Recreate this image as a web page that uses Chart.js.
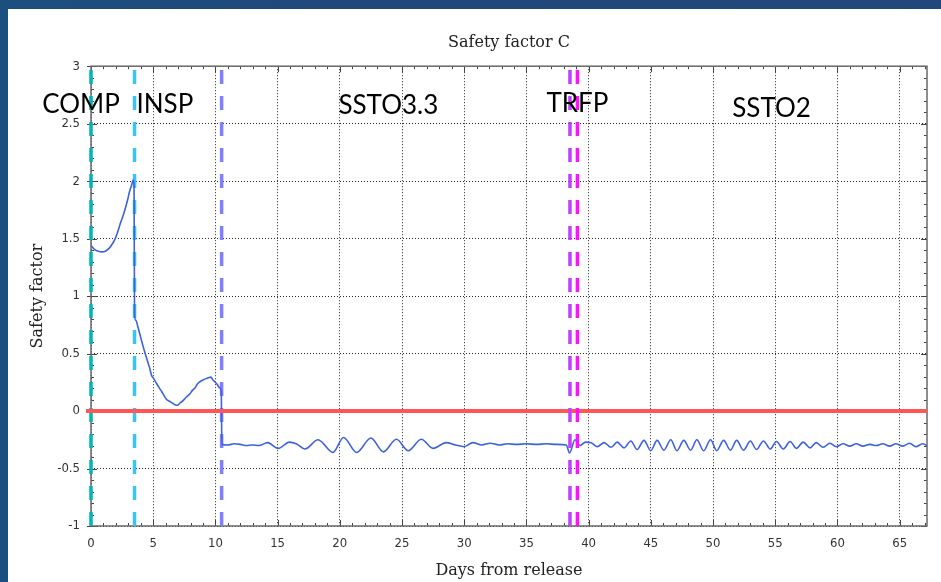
<!DOCTYPE html>
<html>
<head>
<meta charset="utf-8">
<title>Safety factor C</title>
<script src="https://cdn.jsdelivr.net/npm/chart.js@4.4.1/dist/chart.umd.min.js"></script>
<style>
  html, body { margin: 0; padding: 0; }
  body {
    width: 941px;
    height: 582px;
    overflow: hidden;
    background: linear-gradient(90deg, #1b4f80 0%, #21487a 35%, #22477a 100%);
  }
  #panel {
    position: absolute;
    left: 8px;
    top: 9px;
    width: 933px;
    height: 573px;
    background: #fff;
  }
</style>
</head>
<body>
<div id="panel"><canvas id="grafica" width="933" height="573"></canvas></div>
<script>
// days from release and the computed safety factor at each day
const days = [
    0.00, 0.30, 0.60, 0.86, 1.15, 1.45, 1.75, 1.95, 2.15, 2.35, 2.55, 2.75, 2.95, 3.10, 3.25, 3.40, 3.46, 3.50, 3.60,
    3.80, 4.07, 4.30, 4.47, 4.70, 4.87, 5.05, 5.27, 5.50, 5.68, 5.90, 6.08, 6.30, 6.53, 6.75, 6.95, 7.15, 7.40, 7.65,
    7.95, 8.15, 8.35, 8.55, 8.76, 9.00, 9.20, 9.45, 9.64, 9.80, 9.96, 10.15, 10.36, 10.47, 10.52,
    11.00, 11.50, 12.00, 12.50, 13.00, 13.50, 14.20, 15.05, 15.95, 16.50, 17.20, 18.25, 19.45, 20.30, 21.35, 22.50,
    23.50, 24.55, 25.50, 26.55, 27.50, 28.55, 29.30, 30.00, 30.70, 31.40, 32.10, 32.80, 33.50, 34.20, 35.00, 35.80,
    36.60, 37.40, 38.20, 38.47, 38.90, 39.30, 39.75,
    40.20, 40.70, 41.25, 41.80, 42.30, 42.85, 43.40, 43.90, 44.45, 45.00, 45.50, 46.05, 46.60, 47.10, 47.65, 48.20,
    48.70, 49.25, 49.80, 50.30, 50.85, 51.40, 51.90, 52.45, 53.00, 53.50, 54.05, 54.60, 55.10, 55.65, 56.20, 56.70,
    57.25, 57.80, 58.30, 58.85, 59.40, 59.90, 60.45, 61.00, 61.50, 62.05, 62.60, 63.10, 63.65, 64.20, 64.70, 65.25,
    65.80, 66.30, 66.85, 67.20
];
const safety = [
    1.44, 1.405, 1.39, 1.385, 1.39, 1.415, 1.46, 1.50, 1.56, 1.63, 1.69, 1.76, 1.84, 1.91, 1.96, 2.01, 1.96, 0.84, 0.79,
    0.72, 0.61, 0.52, 0.46, 0.38, 0.31, 0.28, 0.24, 0.20, 0.17, 0.13, 0.10, 0.085, 0.07, 0.055, 0.05, 0.07, 0.09, 0.12,
    0.15, 0.18, 0.20, 0.235, 0.255, 0.27, 0.28, 0.29, 0.295, 0.27, 0.255, 0.23, 0.20, 0.17, -0.29,
    -0.295, -0.285, -0.29, -0.30, -0.295, -0.30, -0.275, -0.325, -0.27, -0.285, -0.33, -0.25, -0.36, -0.23, -0.36, -0.235,
    -0.355, -0.245, -0.345, -0.245, -0.325, -0.275, -0.295, -0.31, -0.275, -0.295, -0.28, -0.295, -0.285, -0.29, -0.285, -0.29,
    -0.285, -0.29, -0.295, -0.365, -0.25, -0.30, -0.27,
    -0.275, -0.31, -0.275, -0.315, -0.27, -0.32, -0.26, -0.335, -0.255, -0.345, -0.255, -0.34, -0.25, -0.345, -0.255, -0.34,
    -0.25, -0.345, -0.25, -0.345, -0.255, -0.34, -0.255, -0.34, -0.26, -0.335, -0.26, -0.33, -0.265, -0.33, -0.265, -0.325,
    -0.27, -0.32, -0.275, -0.315, -0.28, -0.31, -0.285, -0.305, -0.285, -0.305, -0.29, -0.30, -0.285, -0.305, -0.285, -0.305,
    -0.28, -0.31, -0.285, -0.30
];

// mission phases: the day each one starts and its name
const phaseDays = [0, 3.5, 10.5, 38.5, 39.1];
const phaseNames = ['COMP', 'INSP', 'SSTO3.3', 'TRFP', 'SSTO2'];
const phaseColors = ['#00b4b4', '#3cc3f5', '#7f7fff', '#bf40ff', '#ff10ff'];

const threshold = 0;
const yMin = -1, yMax = 3, yStep = 0.5;
const xMin = 0, xMax = 67.2, xStep = 5;

// where each phase name is written, in axis units
const phaseLabelPos = [
    { x: -0.8, y: 2.59 },
    { x: 5.94, y: 2.59 },
    { x: 23.9, y: 2.58 },
    { x: 39.1, y: 2.60 },
    { x: 54.7, y: 2.555 }
];

const serif = "'DejaVu Serif', 'Liberation Serif', serif";
const tickFont = "'Liberation Sans Narrow', 'DejaVu Sans Condensed', 'Liberation Sans', sans-serif";

// frame and small ticks under the curves, phase names on top
const frameAndLabels = {
    id: 'frameAndLabels',
    beforeDatasetsDraw(chart) {
        const { ctx, chartArea: a, scales: { x, y } } = chart;
        ctx.save();

        ctx.strokeStyle = '#444';
        ctx.lineWidth = 1;
        ctx.beginPath();
        for (let d = Math.ceil(x.min); d <= x.max; d += 1) {
            const px = Math.round(x.getPixelForValue(d)) + 0.5;
            const len = d % xStep === 0 ? 6 : 3;
            ctx.moveTo(px, a.bottom);
            ctx.lineTo(px, a.bottom - len);
            ctx.moveTo(px, a.top);
            ctx.lineTo(px, a.top + len);
        }
        for (let i = yMin * 10; i <= yMax * 10; i++) {
            const py = Math.round(y.getPixelForValue(i / 10)) + 0.5;
            const major = i % 5 === 0;
            ctx.moveTo(a.left - (major ? 4 : 0), py);
            ctx.lineTo(a.left + (major ? 6 : 3), py);
            ctx.moveTo(a.right, py);
            ctx.lineTo(a.right - (major ? 6 : 3), py);
        }
        ctx.stroke();

        ctx.strokeStyle = '#6a6a6a';
        ctx.lineWidth = 1.5;
        ctx.strokeRect(a.left, a.top, a.right - a.left, a.bottom - a.top);
        ctx.restore();
    },
    afterDraw(chart) {
        const { ctx, scales: { x, y } } = chart;
        ctx.save();
        ctx.fillStyle = '#000';
        ctx.font = "26px Lato, 'Open Sans', sans-serif";
        ctx.textAlign = 'center';
        ctx.textBaseline = 'alphabetic';
        phaseNames.forEach((name, i) => {
            const p = phaseLabelPos[i];
            ctx.fillText(name, x.getPixelForValue(p.x), y.getPixelForValue(p.y));
        });
        ctx.restore();
    }
};

const phaseLines = phaseDays.map((d, i) => ({
    data: [{ x: d, y: yMin }, { x: d, y: yMax }],
    borderColor: phaseColors[i],
    borderWidth: 3.5,
    borderDash: [14, 12],
    pointRadius: 0,
    clip: 5,
    order: i >= 3 ? 0 : 3
}));

const ctx = document.getElementById('grafica').getContext('2d');

new Chart(ctx, {
    type: 'line',
    data: {
        datasets: [
            ...phaseLines,
            {
                data: days.map((d, i) => ({ x: d, y: safety[i] })),
                borderColor: '#3d63dc',
                borderWidth: 1.6,
                pointRadius: 0,
                cubicInterpolationMode: 'monotone',
                order: 2
            },
            {
                data: [{ x: -1, y: threshold }, { x: xMax, y: threshold }],
                borderColor: '#ff5555',
                borderWidth: 4,
                pointRadius: 0,
                clip: { left: 5, top: 0, right: 0, bottom: 0 },
                order: 1
            }
        ]
    },
    options: {
        responsive: false,
        animation: false,
        layout: { padding: { left: 0, right: 14, top: 0, bottom: 0 } },
        plugins: {
            legend: { display: false },
            tooltip: { enabled: false },
            title: {
                display: true,
                text: 'Safety factor C',
                fullSize: false,
                color: '#222',
                font: { family: serif, size: 16, weight: 'normal' },
                padding: { top: 24, bottom: 14 }
            }
        },
        scales: {
            x: {
                type: 'linear',
                min: xMin,
                max: xMax,
                afterFit: (scale) => { scale.height = 56; },
                ticks: {
                    stepSize: xStep,
                    includeBounds: false,
                    padding: 10,
                    color: '#333',
                    font: { family: tickFont, size: 13 }
                },
                grid: { color: 'rgba(0,0,0,0.85)', lineWidth: 1, drawTicks: false },
                border: { display: false, dash: [1, 2] },
                title: {
                    display: true,
                    text: 'Days from release',
                    color: '#222',
                    font: { family: serif, size: 16 },
                    padding: { top: 4, bottom: 2 }
                }
            },
            y: {
                min: yMin,
                max: yMax,
                afterFit: (scale) => { scale.width = 83; },
                ticks: {
                    stepSize: yStep,
                    padding: 11,
                    color: '#333',
                    font: { family: tickFont, size: 13 },
                    callback: (v) => String(v)
                },
                grid: { color: 'rgba(0,0,0,0.85)', lineWidth: 1, drawTicks: false },
                border: { display: false, dash: [1, 2] },
                title: {
                    display: true,
                    text: 'Safety factor',
                    color: '#222',
                    font: { family: serif, size: 16 },
                    padding: { top: 20, bottom: 0 }
                }
            }
        }
    },
    plugins: [frameAndLabels]
});
</script>
</body>
</html>
